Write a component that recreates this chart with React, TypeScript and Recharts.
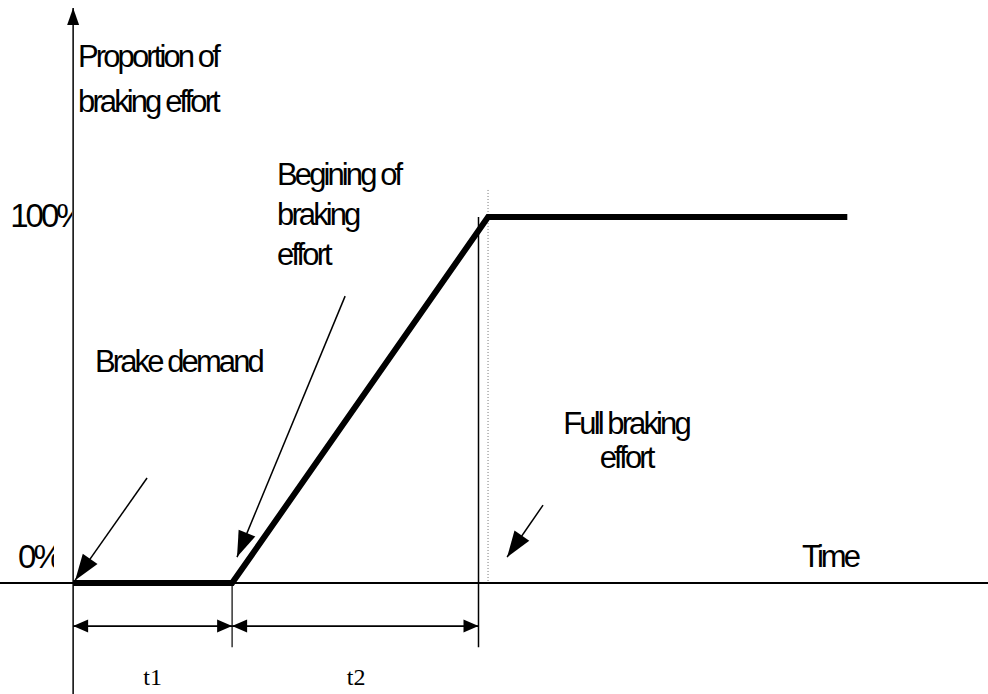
import React from "react";
import {
  ComposedChart,
  Line,
  XAxis,
  YAxis,
  ReferenceLine,
  ReferenceDot,
} from "recharts";

// braking effort curve (time in arbitrary units, effort in %)
const times = [0, 1.0, 2.61, 4.87];
const effort = [0, 0, 100, 100];

// value labels on the vertical axis
const pctTicks = [0, 100];
const pctLabels = ["0%", "100%"];

// phase bounds t1 / t2 and their names
const phaseBounds = [0, 1.0, 2.55];
const phaseLabels = ["t1", "t2"];

const data = times.map((t, i) => ({ t, v: effort[i] }));

const X_DOMAIN: [number, number] = [-0.46, 5.755];
const Y_DOMAIN: [number, number] = [-30.3, 159.3];
const DIM_Y = -11.75;
const TICK_BOTTOM = -17.5;
const LABEL_FONT = "'Liberation Sans', Arial, sans-serif";

const notes = [
  { lines: ["Proportion of", "braking effort"], t: 0.031, v: 140.9, lh: 45, anchor: "start" },
  { lines: ["Begining of", "braking", "effort"], t: 1.283, v: 108.7, lh: 40, anchor: "start" },
  { lines: ["Brake demand"], t: 0.138, v: 57.7, lh: 0, anchor: "start" },
  { lines: ["Full braking", "effort"], t: 3.478, v: 40.6, lh: 34, anchor: "middle" },
  { lines: ["Time"], t: 4.585, v: 4.4, lh: 0, anchor: "start" },
];

const pctPos = [
  { t: -0.346, v: 4.1, clipW: 36 },
  { t: -0.396, v: 97.3, clipW: 62 },
];

const pointers = [
  { from: [0.465, 28.7], to: [0.013, 0.8] },
  { from: [1.711, 78.4], to: [1.031, 7.1] },
  { from: [2.956, 21.3], to: [2.73, 7.1] },
];

const headPts = (x1: number, y1: number, x2: number, y2: number, len: number, half: number) => {
  const dx = x2 - x1;
  const dy = y2 - y1;
  const d = Math.hypot(dx, dy) || 1;
  const ux = dx / d;
  const uy = dy / d;
  const bx = x2 - ux * len;
  const by = y2 - uy * len;
  return `${x2},${y2} ${bx - uy * half},${by + ux * half} ${bx + uy * half},${by - ux * half}`;
};

const arrowShape =
  (opts: { start?: boolean; end?: boolean; len: number; half: number; width: number }) =>
  (p: any) => {
    const { x1, y1, x2, y2 } = p;
    return (
      <g>
        <line x1={x1} y1={y1} x2={x2} y2={y2} stroke="#000" strokeWidth={opts.width} />
        {opts.end && <polygon points={headPts(x1, y1, x2, y2, opts.len, opts.half)} fill="#000" />}
        {opts.start && <polygon points={headPts(x2, y2, x1, y1, opts.len, opts.half)} fill="#000" />}
      </g>
    );
  };

const noteShape = (lines: string[], lh: number, anchor: string) => (p: any) => (
  <text
    x={p.cx}
    y={p.cy}
    fontFamily={LABEL_FONT}
    fontSize={31}
    letterSpacing={-2.9}
    textAnchor={anchor as any}
    fill="#000"
  >
    {lines.map((l, i) => (
      <tspan key={i} x={p.cx} dy={i === 0 ? 0 : lh}>
        {l}
      </tspan>
    ))}
  </text>
);

const pctShape = (label: string, idx: number, clipW: number) => (p: any) => (
  <g>
    <defs>
      <clipPath id={`pct-clip-${idx}`}>
        <rect x={p.cx - 10} y={p.cy - 40} width={clipW + 10} height={60} />
      </clipPath>
    </defs>
    <text
      x={p.cx}
      y={p.cy}
      fontFamily={LABEL_FONT}
      fontSize={33}
      letterSpacing={-3}
      fill="#000"
      clipPath={`url(#pct-clip-${idx})`}
    >
      {label}
    </text>
  </g>
);

const phaseShape = (label: string) => (p: any) => (
  <text
    x={p.cx}
    y={p.cy}
    fontFamily="'Liberation Serif', 'Times New Roman', serif"
    fontSize={24}
    textAnchor="middle"
    fill="#000"
  >
    {label}
  </text>
);

export default function App() {
  return (
    <div style={{ position: "absolute", left: 0, top: 0, background: "#fff" }}>
      <ComposedChart
        width={988}
        height={694}
        data={data}
        margin={{ top: 0, right: 0, bottom: 0, left: 0 }}
      >
        <XAxis
          type="number"
          dataKey="t"
          domain={X_DOMAIN}
          allowDataOverflow
          hide
        />
        <YAxis type="number" domain={Y_DOMAIN} allowDataOverflow hide />

        {/* axes */}
        <ReferenceLine
          segment={[
            { x: 0, y: Y_DOMAIN[0] },
            { x: 0, y: 157.1 },
          ]}
          ifOverflow="visible"
          shape={arrowShape({ end: true, len: 17, half: 6, width: 1.5 })}
        />
        <ReferenceLine y={0} stroke="#000" strokeWidth={2} ifOverflow="visible" />

        {/* guide lines */}
        <ReferenceLine
          segment={[
            { x: 2.61, y: 107.4 },
            { x: 2.61, y: 0 },
          ]}
          stroke="#777"
          strokeWidth={1}
          strokeDasharray="1 2"
          ifOverflow="visible"
        />
        <ReferenceLine
          segment={[
            { x: phaseBounds[1], y: 0 },
            { x: phaseBounds[1], y: TICK_BOTTOM },
          ]}
          stroke="#000"
          strokeWidth={1.2}
          ifOverflow="visible"
        />
        <ReferenceLine
          segment={[
            { x: phaseBounds[2], y: 100 },
            { x: phaseBounds[2], y: TICK_BOTTOM },
          ]}
          stroke="#000"
          strokeWidth={1.5}
          ifOverflow="visible"
        />

        {/* dimension arrows t1, t2 */}
        {phaseLabels.map((_, i) => (
          <ReferenceLine
            key={`dim-${i}`}
            segment={[
              { x: phaseBounds[i], y: DIM_Y },
              { x: phaseBounds[i + 1], y: DIM_Y },
            ]}
            ifOverflow="visible"
            shape={arrowShape({ start: true, end: true, len: 15, half: 6.5, width: 1.6 })}
          />
        ))}

        {/* pointer arrows */}
        {pointers.map((a, i) => (
          <ReferenceLine
            key={`ptr-${i}`}
            segment={[
              { x: a.from[0], y: a.from[1] },
              { x: a.to[0], y: a.to[1] },
            ]}
            ifOverflow="visible"
            shape={arrowShape({ end: true, len: 26, half: 9, width: 1.5 })}
          />
        ))}

        <Line
          type="linear"
          dataKey="v"
          stroke="#000"
          strokeWidth={6}
          strokeLinejoin="miter"
          dot={false}
          activeDot={false}
          isAnimationActive={false}
        />

        {notes.map((n, i) => (
          <ReferenceDot
            key={`note-${i}`}
            x={n.t}
            y={n.v}
            r={1}
            ifOverflow="visible"
            shape={noteShape(n.lines, n.lh, n.anchor)}
          />
        ))}

        {pctTicks.map((v, i) => (
          <ReferenceDot
            key={`pct-${v}`}
            x={pctPos[i].t}
            y={pctPos[i].v}
            r={1}
            ifOverflow="visible"
            shape={pctShape(pctLabels[i], i, pctPos[i].clipW)}
          />
        ))}

        {phaseLabels.map((l, i) => (
          <ReferenceDot
            key={`phase-${l}`}
            x={(phaseBounds[i] + phaseBounds[i + 1]) / 2 + (i === 0 ? 0 : 0.005)}
            y={-27.8}
            r={1}
            ifOverflow="visible"
            shape={phaseShape(l)}
          />
        ))}
      </ComposedChart>
    </div>
  );
}
